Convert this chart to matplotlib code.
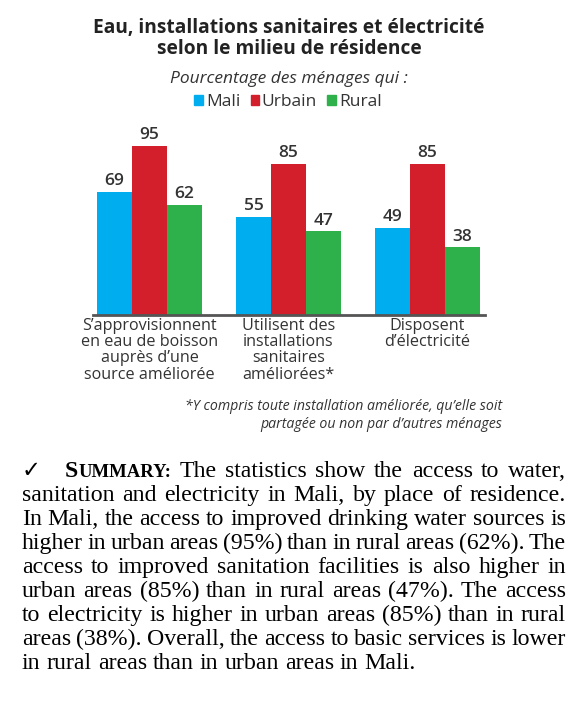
import numpy as np
import matplotlib
matplotlib.use("Agg")
import matplotlib.pyplot as plt
from matplotlib.patches import Patch

W, H = 578, 706

categories = ["S\u2019approvisionnent\nen eau de boisson\nauprès d\u2019une\nsource améliorée",
              "Utilisent des\ninstallations\nsanitaires\naméliorées*",
              "Disposent\nd\u2019électricité"]
series = ["Mali", "Urbain", "Rural"]
mali = [69, 55, 49]
urbain = [95, 85, 85]
rural = [62, 47, 38]
colors = ["#00AEEF", "#D21F2B", "#2EB14B"]

summary_lines = [
    "The statistics show the access to water,",
    "sanitation and electricity in Mali, by place of residence.",
    "In Mali, the access to improved drinking water sources is",
    "higher in urban areas (95%) than in rural areas (62%). The",
    "access to improved sanitation facilities is also higher in",
    "urban areas (85%) than in rural areas (47%). The access",
    "to electricity is higher in urban areas (85%) than in rural",
    "areas (38%). Overall, the access to basic services is lower",
    "in rural areas than in urban areas in Mali.",
]

plt.rcParams['font.family'] = ['Open Sans', 'DejaVu Sans']
txt = "#333333"

fig = plt.figure(figsize=(W / 100, H / 100), dpi=100)

def fx(px):
    return px / W

def fy(py):
    return 1 - py / H

# axes placed in pixels: baseline at y=315, x from 93 to 485
px_per_unit = 1.78
ax = fig.add_axes([fx(93), fy(315), fx(485) - fx(93), 100 * px_per_unit / H])
x = np.arange(len(categories))
wd = 35 / 139
for i, (vals, c, name) in enumerate(zip([mali, urbain, rural], colors, series)):
    bars = ax.bar(x + (i - 1) * wd, vals, wd, color=c, label=name)
    ax.bar_label(bars, padding=2, fontsize=12.5, color=txt, fontweight="semibold")
ax.set_xlim(-56.5 / 139, (485 - 149.5) / 139)
ax.set_ylim(0, 100)
for s in ["top", "left", "right"]:
    ax.spines[s].set_visible(False)
ax.spines["bottom"].set_color("#555555")
ax.spines["bottom"].set_linewidth(2)
ax.set_yticks([])
ax.set_xticks(x, categories, fontsize=11.6, color=txt, linespacing=1.03)
ax.tick_params(axis="x", length=0, pad=2)

# titles
fig.text(0.5, fy(28), "Eau, installations sanitaires et électricité", ha="center", va="center",
         fontsize=13.8, fontweight="bold", color="#222222")
fig.text(0.5, fy(49), "selon le milieu de résidence", ha="center", va="center",
         fontsize=13.8, fontweight="bold", color="#222222")
fig.text(0.5, fy(79), "Pourcentage des ménages qui :", ha="center", va="center",
         fontsize=12.5, style="italic", color=txt)

handles = [Patch(color=c, label=n) for c, n in zip(colors, series)]
fig.legend(handles=handles, loc="center", bbox_to_anchor=(fx(288), fy(102)), ncol=3,
           frameon=False, handlelength=0.5, handleheight=0.5, handletextpad=0.15,
           columnspacing=0.6, fontsize=12.5, labelcolor=txt, borderpad=0)

fig.text(fx(502), fy(407), "*Y compris toute installation améliorée, qu\u2019elle soit",
         ha="right", va="center", fontsize=10.2, style="italic", color=txt)
fig.text(fx(502), fy(424), "partagée ou non par d\u2019autres ménages",
         ha="right", va="center", fontsize=10.2, style="italic", color=txt)

# summary paragraph, justified
serif = ['Liberation Serif', 'DejaVu Serif']
fs = 17.2
renderer = fig.canvas.get_renderer()

def width_of(t):
    return t.get_window_extent(renderer).width

left, right = 22, 566
y0, dy = 477, 24  # baselines
fig.text(fx(left), fy(y0), "\u2713", ha="left", va="baseline", fontsize=fs * 0.95,
         family=['DejaVu Sans'], color="black", fontweight="bold")
s1 = fig.text(fx(65), fy(y0), "S", ha="left", va="baseline", fontsize=fs,
              family=serif, fontweight="bold", color="black")
s2 = fig.text(fx(65 + width_of(s1)), fy(y0), "UMMARY:", ha="left", va="baseline",
              fontsize=fs * 0.78, family=serif, fontweight="bold", color="black")
head_w = width_of(s1) + width_of(s2)

for k, line in enumerate(summary_lines):
    yy = fy(y0 + k * dy)
    words = line.split(" ")
    objs = [fig.text(0, yy, w, ha="left", va="baseline", fontsize=fs, family=serif,
                     color="black") for w in words]
    widths = [width_of(o) for o in objs]
    start = left
    widths_all = list(widths)
    if k == 0:
        start = 65
        widths_all = [head_w] + widths
    n = len(widths_all)
    if k < len(summary_lines) - 1:
        gap = (right - start - sum(widths_all)) / (n - 1)
    else:
        gap = 0.25 * fs * 100 / 72
    pos = start
    if k == 0:
        pos += head_w + gap
    for o, w in zip(objs, widths):
        o.set_x(fx(pos))
        pos += w + gap

fig.savefig("out.png", dpi=100)
